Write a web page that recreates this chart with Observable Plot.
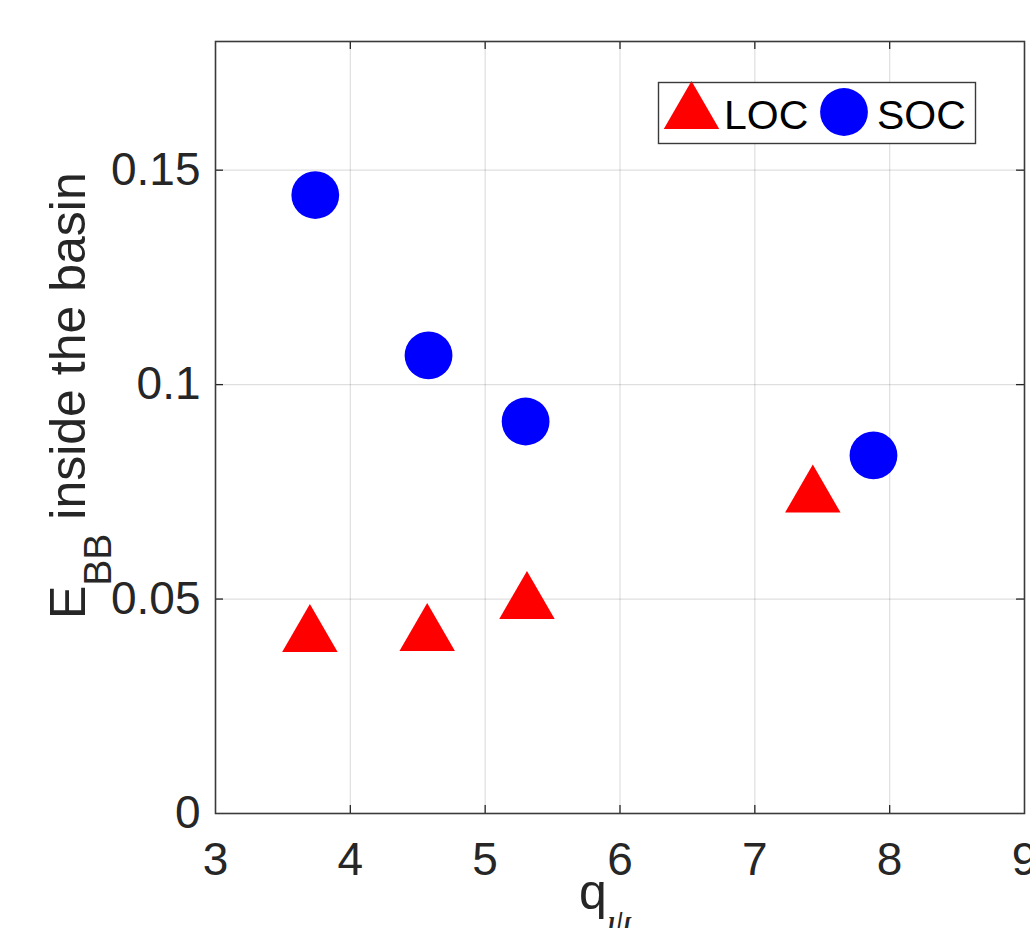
<!DOCTYPE html>
<html>
<head>
<meta charset="utf-8">
<script src="https://cdn.jsdelivr.net/npm/d3@7"></script>
<script src="https://cdn.jsdelivr.net/npm/@observablehq/plot@0.6"></script>
<style>
  html, body { margin: 0; padding: 0; background: #fff; overflow: hidden; }
  #chart { width: 1030px; height: 928px; }
  svg { display: block; }
</style>
</head>
<body>
<div id="chart"></div>
<script>
// ---- data ----
const xTicks = [3, 4, 5, 6, 7, 8, 9];
const yTicks = [0, 0.05, 0.1, 0.15];
const yTickLabels = ["0", "0.05", "0.1", "0.15"];
const seriesNames = ["LOC", "SOC"];
const locQ = [3.70, 4.57, 5.31, 7.43];
const locE = [0.0414, 0.0416, 0.0491, 0.0739];
const socQ = [3.74, 4.58, 5.30, 7.88];
const socE = [0.1442, 0.1068, 0.0914, 0.0835];
const xDomain = [3, 9];
const yDomain = [0, 0.18];

const loc = locQ.map((q, i) => ({q, e: locE[i]}));
const soc = socQ.map((q, i) => ({q, e: socE[i]}));

// ---- style ----
const W = 1030, H = 928;
const mL = 215, mR = 6, mT = 41, mB = 115;
const axisColor = "#262626";
const font = "'Liberation Sans', Arial, Helvetica, sans-serif";
const tickLenPx = 8;
const xPerPx = (xDomain[1] - xDomain[0]) / (W - mL - mR);
const yPerPx = (yDomain[1] - yDomain[0]) / (H - mT - mB);
const tx = tickLenPx * xPerPx, ty = tickLenPx * yPerPx;
const triR = 20.6, circR = 23.9;

const innerX = xTicks.slice(1, -1);
const innerY = yTicks.slice(1);

const plot = Plot.plot({
  width: W, height: H,
  marginLeft: mL, marginRight: mR, marginTop: mT, marginBottom: mB,
  style: {fontFamily: font, fontSize: "46px", color: axisColor, background: "#fff", overflow: "visible"},
  x: {domain: xDomain, ticks: xTicks, tickSize: 0, tickPadding: 29, tickFormat: d => String(d), label: null},
  y: {domain: yDomain, ticks: yTicks, tickSize: 0, tickPadding: 15, tickFormat: d => yTickLabels[yTicks.indexOf(d)], label: null},
  marks: [
    // grid
    Plot.ruleX(innerX, {x: d => d, y1: yDomain[0], y2: yDomain[1], stroke: axisColor, strokeOpacity: 0.15, strokeWidth: 1.2}),
    Plot.ruleY(innerY, {y: d => d, x1: xDomain[0], x2: xDomain[1], stroke: axisColor, strokeOpacity: 0.15, strokeWidth: 1.2}),
    // inward ticks (bottom/top/left/right)
    Plot.ruleX(innerX, {x: d => d, y1: yDomain[0], y2: yDomain[0] + ty, stroke: axisColor, strokeWidth: 1.3}),
    Plot.ruleX(innerX, {x: d => d, y1: yDomain[1] - ty, y2: yDomain[1], stroke: axisColor, strokeWidth: 1.3}),
    Plot.ruleY(innerY, {y: d => d, x1: xDomain[0], x2: xDomain[0] + tx, stroke: axisColor, strokeWidth: 1.3}),
    Plot.ruleY(innerY, {y: d => d, x1: xDomain[1] - tx, x2: xDomain[1], stroke: axisColor, strokeWidth: 1.3}),
    Plot.frame({stroke: "#3a3a3a", strokeWidth: 1.6}),
    Plot.dot(loc, {x: "q", y: "e", symbol: "triangle", r: triR, fill: "#ff0000", stroke: null}),
    Plot.dot(soc, {x: "q", y: "e", symbol: "circle", r: circR, fill: "#0000ff", stroke: null})
  ]
});
document.getElementById("chart").appendChild(plot);

// ---- axis labels with subscripts and legend ----
const svg = d3.select(plot);

// y label: E_BB inside the basin
const yl = svg.append("text")
  .attr("transform", "translate(85,619) rotate(-90)")
  .attr("text-anchor", "start")
  .attr("font-family", font).attr("font-size", 50).attr("fill", axisColor);
yl.append("tspan").text("E");
yl.append("tspan").attr("font-size", 39).attr("dy", 26).text("BB");
yl.append("tspan").attr("dy", -26).text(" inside the basin");

// x label: q_psi
const xl = svg.append("text")
  .attr("x", 579).attr("y", 909)
  .attr("text-anchor", "start")
  .attr("font-family", font).attr("font-size", 50).attr("fill", axisColor);
xl.append("tspan").text("q");
xl.append("tspan").attr("font-size", 39).attr("dy", 27)
  .attr("font-family", "'Liberation Serif', 'DejaVu Serif', serif").attr("font-style", "italic").text("ψ");

// legend
const lg = svg.append("g").attr("text-anchor", "start");
lg.append("rect").attr("x", 658.5).attr("y", 82.5).attr("width", 317).attr("height", 61)
  .attr("fill", "#fff").attr("stroke", "#3a3a3a").attr("stroke-width", 1.4);
const symSize = r => Math.PI * r * r;
lg.append("path").attr("transform", "translate(691.5,113)")
  .attr("d", d3.symbol(d3.symbolTriangle, symSize(triR))()).attr("fill", "#ff0000");
lg.append("text").attr("x", 724).attr("y", 128.5).attr("font-family", font).attr("font-size", 41)
  .attr("fill", "#000").text(seriesNames[0]);
lg.append("circle").attr("cx", 844).attr("cy", 112).attr("r", circR).attr("fill", "#0000ff");
lg.append("text").attr("x", 877).attr("y", 128.5).attr("font-family", font).attr("font-size", 41)
  .attr("fill", "#000").text(seriesNames[1]);
</script>
</body>
</html>
